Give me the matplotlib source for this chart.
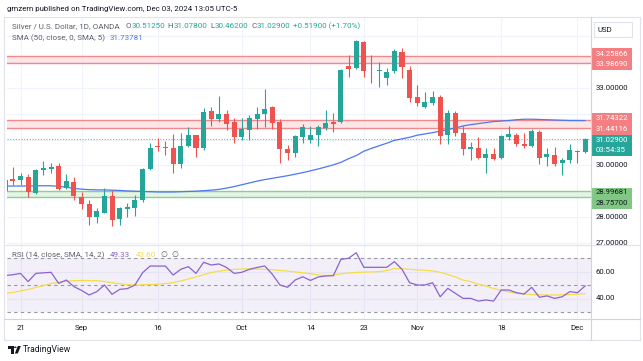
import numpy as np
import pandas as pd
import matplotlib
matplotlib.use("Agg")
import matplotlib.pyplot as plt
from matplotlib.patches import Rectangle, Polygon, Circle
from matplotlib.lines import Line2D

# --- DATA (silver / USD, daily, OANDA) ---
DATES = pd.bdate_range("2024-08-19", "2024-12-03")

OPEN = [29.00, 29.46, 29.43, 29.54, 28.92, 29.84, 29.87, 29.99, 29.11, 29.37,
        28.79, 28.50, 27.99, 28.17, 28.81, 27.92, 28.32, 28.36, 28.66, 29.85,
        30.75, 30.73, 30.69, 30.04, 30.75, 31.16, 30.66, 32.11, 31.79, 31.99,
        31.70, 31.09, 31.37, 31.79, 31.99, 32.25, 31.69, 30.63, 30.47, 31.09,
        30.98, 31.18, 31.44, 31.67, 31.70, 33.85, 33.76, 34.79, 33.67, 33.64,
        33.40, 33.64, 34.41, 33.70, 32.64, 32.28, 32.43, 32.64, 31.16, 32.02,
        31.27, 30.65, 30.66, 30.28, 30.44, 30.28, 31.11, 31.19, 30.83, 30.75,
        31.31, 30.31, 30.40, 30.08, 30.21, 30.56, 30.5125]
HIGH = [29.45, 29.95, 29.72, 29.67, 29.85, 30.17, 30.08, 30.09, 29.67, 29.54,
        28.98, 28.66, 28.36, 29.14, 29.05, 28.38, 28.53, 28.85, 29.88, 30.88,
        31.05, 30.95, 31.22, 31.27, 31.48, 31.18, 32.22, 32.28, 32.69, 32.15,
        31.83, 31.83, 31.95, 32.28, 32.95, 32.30, 31.79, 30.79, 31.18, 31.60,
        31.53, 31.57, 32.15, 32.02, 33.75, 34.28, 34.86, 34.82, 34.28, 33.99,
        33.76, 34.50, 34.54, 33.87, 33.12, 32.86, 32.90, 32.73, 32.15, 32.12,
        31.53, 30.92, 31.11, 30.66, 30.66, 31.16, 31.53, 31.24, 31.27, 31.40,
        31.37, 30.66, 30.73, 30.28, 30.83, 30.60, 31.078]
LOW = [28.95, 29.24, 29.24, 28.78, 28.88, 29.63, 29.69, 29.05, 29.09, 28.66,
       28.31, 27.69, 27.78, 28.14, 27.67, 27.69, 28.01, 28.04, 28.60, 29.82,
       30.57, 30.40, 29.69, 29.91, 30.73, 30.34, 30.60, 31.53, 31.70, 31.37,
       30.88, 30.98, 30.98, 31.40, 31.50, 31.40, 30.10, 30.21, 30.34, 30.86,
       30.88, 30.75, 31.37, 31.31, 31.65, 33.44, 33.73, 33.41, 33.18, 33.05,
       33.12, 33.59, 33.38, 32.47, 32.30, 32.24, 32.34, 30.83, 30.83, 31.14,
       30.40, 30.21, 30.24, 29.69, 30.19, 30.24, 30.98, 30.75, 30.66, 30.70,
       30.06, 29.98, 29.98, 29.63, 30.10, 30.08, 30.462]
CLOSE = [29.43, 29.40, 29.59, 28.96, 29.82, 29.89, 29.94, 29.09, 29.40, 28.83,
         28.50, 27.99, 28.24, 28.81, 27.88, 28.34, 28.38, 28.66, 29.86, 30.69,
         30.70, 30.67, 30.04, 30.75, 31.16, 30.66, 32.08, 31.79, 31.99, 31.60,
         31.12, 31.41, 31.83, 31.99, 32.19, 31.66, 30.63, 30.47, 31.14, 31.50,
         31.18, 31.48, 31.66, 31.62, 33.70, 33.74, 34.82, 33.66, 33.64, 33.69,
         33.63, 34.43, 33.80, 32.62, 32.42, 32.45, 32.64, 31.14, 32.02, 31.27,
         30.64, 30.70, 30.28, 30.44, 30.24, 31.14, 31.21, 30.83, 30.76, 31.35,
         30.28, 30.44, 30.06, 30.19, 30.60, 30.51, 31.029]
SMA50 = [29.20, 29.20, 29.20, 29.20, 29.21, 29.21, 29.21, 29.19, 29.15, 29.11,
         29.08, 29.06, 29.05, 29.05, 29.04, 29.03, 29.01, 29.00, 28.99, 28.98,
         28.97, 28.97, 28.97, 28.98, 28.99, 29.00, 29.02, 29.04, 29.07, 29.12,
         29.18, 29.25, 29.32, 29.39, 29.45, 29.50, 29.55, 29.60, 29.66, 29.72,
         29.79, 29.86, 29.94, 30.02, 30.12, 30.26, 30.38, 30.55, 30.66, 30.76,
         30.86, 30.97, 31.03, 31.09, 31.17, 31.22, 31.27, 31.33, 31.39, 31.45,
         31.53, 31.58, 31.62, 31.66, 31.70, 31.72, 31.74, 31.77, 31.79, 31.79,
         31.78, 31.77, 31.76, 31.75, 31.74, 31.74, 31.73781]
RSI = [57.0, 57.6, 58.6, 52.5, 58.6, 59.0, 59.4, 51.2, 53.7, 48.8,
       46.0, 42.6, 45.1, 50.0, 43.1, 46.8, 47.3, 50.0, 59.1, 64.1,
       64.0, 64.0, 57.4, 61.6, 63.6, 58.6, 66.8, 64.8, 65.6, 63.0,
       58.6, 59.4, 61.6, 63.0, 64.1, 58.0, 50.0, 48.3, 53.7, 56.1,
       53.4, 55.9, 56.7, 56.9, 69.0, 69.8, 73.9, 63.1, 63.1, 63.1,
       63.1, 67.3, 61.6, 51.7, 50.0, 50.0, 51.7, 41.3, 47.5, 43.8,
       40.1, 40.1, 38.1, 38.9, 38.1, 46.3, 46.3, 44.3, 43.3, 48.3,
       40.9, 41.9, 40.1, 41.3, 45.1, 44.3, 49.33]
RSI_MA = [43.8, 44.5, 45.6, 46.7, 48.2, 49.5, 51.0, 52.0, 52.8, 53.2,
          53.3, 53.3, 53.2, 52.6, 51.7, 51.0, 50.3, 50.0, 50.1, 50.3,
          50.6, 51.1, 51.7, 53.0, 54.4, 56.0, 57.6, 59.2, 60.3, 61.0,
          61.6, 61.9, 61.9, 61.8, 61.6, 61.3, 60.8, 60.3, 59.7, 59.0,
          58.4, 57.5, 57.0, 57.3, 58.3, 58.9, 59.3, 59.5, 59.7, 59.9,
          60.8, 62.2, 62.0, 61.6, 61.2, 60.9, 60.4, 59.4, 57.8, 56.0,
          53.6, 52.5, 50.6, 49.2, 47.4, 46.0, 44.9, 43.8, 43.4, 43.0,
          42.7, 42.6, 42.6, 42.7, 42.9, 43.2, 43.60]

RED_ZONES = [(33.98690, 34.25866), (31.44116, 31.74322)]
GREEN_ZONE = (28.75700, 28.99681)
GRID_PRICES = [27, 28, 29, 30, 31, 32, 33, 34, 35]
PRICE_TICKS = [27, 28, 30, 33]          # the others sit under the coloured labels
RSI_TICKS = [40, 60]
DATE_TICKS = [("2024-08-21", "21"), ("2024-09-02", "Sep"), ("2024-09-16", "16"),
              ("2024-10-01", "Oct"), ("2024-10-14", "14"), ("2024-10-23", "23"),
              ("2024-11-01", "Nov"), ("2024-11-18", "18"), ("2024-12-02", "Dec")]
COUNTDOWN = "03:54:35"

# --- STYLE ---
UP, DOWN = "#26a69a", "#ef5350"
BLUE, PURPLE, YELLOW = "#4c78f0", "#8a63cf", "#f5dd4a"
TXT, GREY, GRID, BORDER = "#131722", "#5d606b", "#f0f3fa", "#d1d4dc"
plt.rcParams["font.family"] = ["Roboto", "DejaVu Sans"]

W, H = 643, 361
PANE_L, PANE_R = 7, 591
PRICE_T, SPLIT, RSI_B = 17, 245, 319
X0, STEP = 20.5, 7.63          # pixel of Aug 21 candle, bar spacing
PY33, PPD = 88, 25.8           # pixel of 33.0, pixels per dollar
RY70, RPU = 258, 1.35          # pixel of RSI 70, pixels per RSI unit


def fx(x):
    return x / W


def fy(y):
    return 1 - y / H


fig = plt.figure(figsize=(W / 100, H / 100), dpi=100)
fig.patch.set_facecolor("white")
renderer = fig.canvas.get_renderer()

ax = fig.add_axes([fx(PANE_L), fy(SPLIT), (PANE_R - PANE_L) / W, (SPLIT - PRICE_T) / H])
ax2 = fig.add_axes([fx(PANE_L), fy(RSI_B), (PANE_R - PANE_L) / W, (RSI_B - SPLIT) / H])

pos = np.arange(len(DATES))
i0 = DATES.get_loc(pd.Timestamp("2024-08-21"))
xlim = ((PANE_L - X0) / STEP + i0, (PANE_R - X0) / STEP + i0)
for a in (ax, ax2):
    a.set_xlim(*xlim)
    a.set_axis_off()
ax.set_ylim(33 - (SPLIT - PY33) / PPD, 33 + (PY33 - PRICE_T) / PPD)
ax2.set_ylim(30 - (RSI_B - RY70 - 40 * RPU) / RPU, 70 + (RY70 - SPLIT) / RPU)

tick_pos = [DATES.get_loc(pd.Timestamp(d)) for d, _ in DATE_TICKS]

# --- PRICE PANE ---
for t in tick_pos:
    ax.axvline(t, color=GRID, lw=0.8, zorder=0)
    ax2.axvline(t, color=GRID, lw=0.8, zorder=0)
for p in GRID_PRICES:
    ax.axhline(p, color=GRID, lw=0.8, zorder=0)
for r in RSI_TICKS:
    ax2.axhline(r, color=GRID, lw=0.8, zorder=0)

for lo, hi in RED_ZONES:
    ax.axhspan(lo, hi, color="#fad6d7", alpha=0.6, lw=0, zorder=1)
    ax.axhline(lo, color="#f0898c", lw=1.0, zorder=1)
    ax.axhline(hi, color="#f0898c", lw=1.0, zorder=1)
ax.axhspan(*GREEN_ZONE, color="#d5eed6", alpha=0.6, lw=0, zorder=1)
ax.axhline(GREEN_ZONE[0], color="#8ccf8f", lw=1.0, zorder=1)
ax.axhline(GREEN_ZONE[1], color="#8ccf8f", lw=1.0, zorder=1)

ax.axhline(CLOSE[-1], color=UP, lw=0.8, ls=(0, (1, 1.5)), alpha=0.7, zorder=1)
ax.plot(pos, SMA50, color=BLUE, lw=0.9, zorder=2)

o, h, l, c = map(np.array, (OPEN, HIGH, LOW, CLOSE))
cols = np.where(c >= o, UP, DOWN)
ax.vlines(pos, l, h, colors=cols, lw=0.8, zorder=3)
ax.bar(pos, np.maximum(np.abs(c - o), 0.035), bottom=np.minimum(o, c), width=0.66,
       color=cols, lw=0, zorder=4)

# --- RSI PANE ---
ax2.axhspan(30, 70, color="#7e57c2", alpha=0.09, lw=0, zorder=0)
for r in (30, 50, 70):
    ax2.axhline(r, color="#9598a1", lw=0.8, ls=(0, (3, 3)), zorder=1)
ax2.plot(pos, RSI_MA, color=YELLOW, lw=0.9, zorder=2)
ax2.plot(pos, RSI, color=PURPLE, lw=0.9, zorder=3)

# --- TEXT HELPERS ---
def ftext(x, y, s, **kw):
    kw.setdefault("fontsize", 5.6)
    kw.setdefault("va", "center")
    return fig.text(fx(x), fy(y), s, **kw)


def runs(x, y, pieces, size=5.8):
    for s, color, gap in pieces:
        t = ftext(x, y, s, color=color, fontsize=size, zorder=8)
        x += t.get_window_extent(renderer).width + gap
    return x


def price_px(p):
    return H - ax.transData.transform((0, p))[1]


def rsi_px(r):
    return H - ax2.transData.transform((0, r))[1]


# header + legends
ftext(7, 9, "gmzern published on TradingView.com, Dec 03, 2024 13:05 UTC-5", color=TXT, fontsize=5.7)
chg = CLOSE[-1] - CLOSE[-2]
runs(12, 26, [("Silver / U.S. Dollar, 1D, OANDA", GREY, 6),
              ("O", GREY, 0), (f"{OPEN[-1]:.5f}", UP, 3),
              ("H", GREY, 0), (f"{HIGH[-1]:.5f}", UP, 3),
              ("L", GREY, 0), (f"{LOW[-1]:.5f}", UP, 3),
              ("C", GREY, 0), (f"{CLOSE[-1]:.5f}", UP, 3),
              (f"{chg:+.5f} ({chg / CLOSE[-2] * 100:+.2f}%)", UP, 0)])
runs(12, 38.5, [("SMA (50, close, 0, SMA, 5)", GREY, 5), (f"{SMA50[-1]:.5f}", BLUE, 0)])
runs(12, 255, [("RSI (14, close, SMA, 14, 2)", GREY, 5),
               (f"{RSI[-1]:.2f}", PURPLE, 6), (f"{RSI_MA[-1]:.2f}", YELLOW, 5),
               ("\u2205", GREY, 4), ("\u2205", GREY, 0)])

# date labels
for t, (_, lab) in zip(tick_pos, DATE_TICKS):
    ftext(X0 + STEP * (t - i0), 328, lab, color=TXT, ha="center", fontsize=5.6)

# right price scale
for p in PRICE_TICKS:
    ftext(596, price_px(p), f"{p:.5f}", color=TXT, zorder=4)
fig.patches.append(Rectangle((fx(592), fy(RSI_B)), fx(638) - fx(592), fy(SPLIT + 0.5) - fy(RSI_B),
                             transform=fig.transFigure, facecolor="white", lw=0, zorder=5))
for r in RSI_TICKS:
    ftext(596, rsi_px(r), f"{r:.2f}", color=TXT, zorder=6)


def label_box(top, bottom, lines, face, color):
    fig.patches.append(Rectangle((fx(591.5), fy(bottom)), fx(632) - fx(591.5), fy(top) - fy(bottom),
                                 transform=fig.transFigure, facecolor=face, lw=0, zorder=7))
    for s, y in lines:
        ftext(596, y, s, color=color, zorder=8)


label_box(48, 70, [(f"{RED_ZONES[0][1]:.5f}", 53.5), (f"{RED_ZONES[0][0]:.5f}", 64.5)], "#f47f83", "white")
label_box(112.7, 135, [(f"{RED_ZONES[1][1]:.5f}", 118), (f"{RED_ZONES[1][0]:.5f}", 129)], "#f47f83", "white")
label_box(135, 155.5, [(f"{CLOSE[-1]:.5f}", 140.5), (COUNTDOWN, 150)], UP, "white")
label_box(187.5, 208.5, [(f"{GREEN_ZONE[1]:.5f}", 192.5), (f"{GREEN_ZONE[0]:.5f}", 203)], "#81c784", TXT)

# USD box
fig.patches.append(Rectangle((fx(594), fy(37)), fx(632) - fx(594), fy(22) - fy(37),
                             transform=fig.transFigure, facecolor="white", edgecolor="#e0e3eb",
                             lw=0.8, zorder=7))
ftext(598, 29.5, "USD", color=TXT, zorder=8)


# frame and separators
def fline(x1, y1, x2, y2, color=BORDER, lw=0.8):
    fig.add_artist(Line2D([fx(x1), fx(x2)], [fy(y1), fy(y2)], color=color, lw=lw, zorder=9))


fline(3.5, 17, 639.5, 17, "#e0e3eb")
fline(3.5, 17, 3.5, 340, "#e0e3eb")
fline(639.5, 17, 639.5, 340, "#e0e3eb")
fline(3.5, 340, 639.5, 340, "#e0e3eb")
fline(3.5, SPLIT, 639.5, SPLIT, "#e0e3eb")
fline(3.5, RSI_B, 639.5, RSI_B, BORDER)
fline(PANE_R, 17, PANE_R, 340, BORDER)

# TradingView logo
fig.patches.append(Polygon([(fx(8), fy(346)), (fx(13.5), fy(346)), (fx(13.5), fy(353.5)),
                            (fx(11), fy(353.5)), (fx(11), fy(348.5)), (fx(8), fy(348.5))],
                           closed=True, transform=fig.transFigure, facecolor=TXT, lw=0))
fig.patches.append(Circle((fx(15.3), fy(347.3)), 1.3 / W, transform=fig.transFigure,
                          facecolor=TXT, lw=0))
fig.patches.append(Polygon([(fx(17.8), fy(346)), (fx(20.8), fy(346)), (fx(17.8), fy(353.5)),
                            (fx(14.8), fy(353.5))], closed=True, transform=fig.transFigure,
                           facecolor=TXT, lw=0))
ftext(23, 350, "TradingView", color=TXT, fontsize=6.2)

fig.savefig("out.png", dpi=100)
